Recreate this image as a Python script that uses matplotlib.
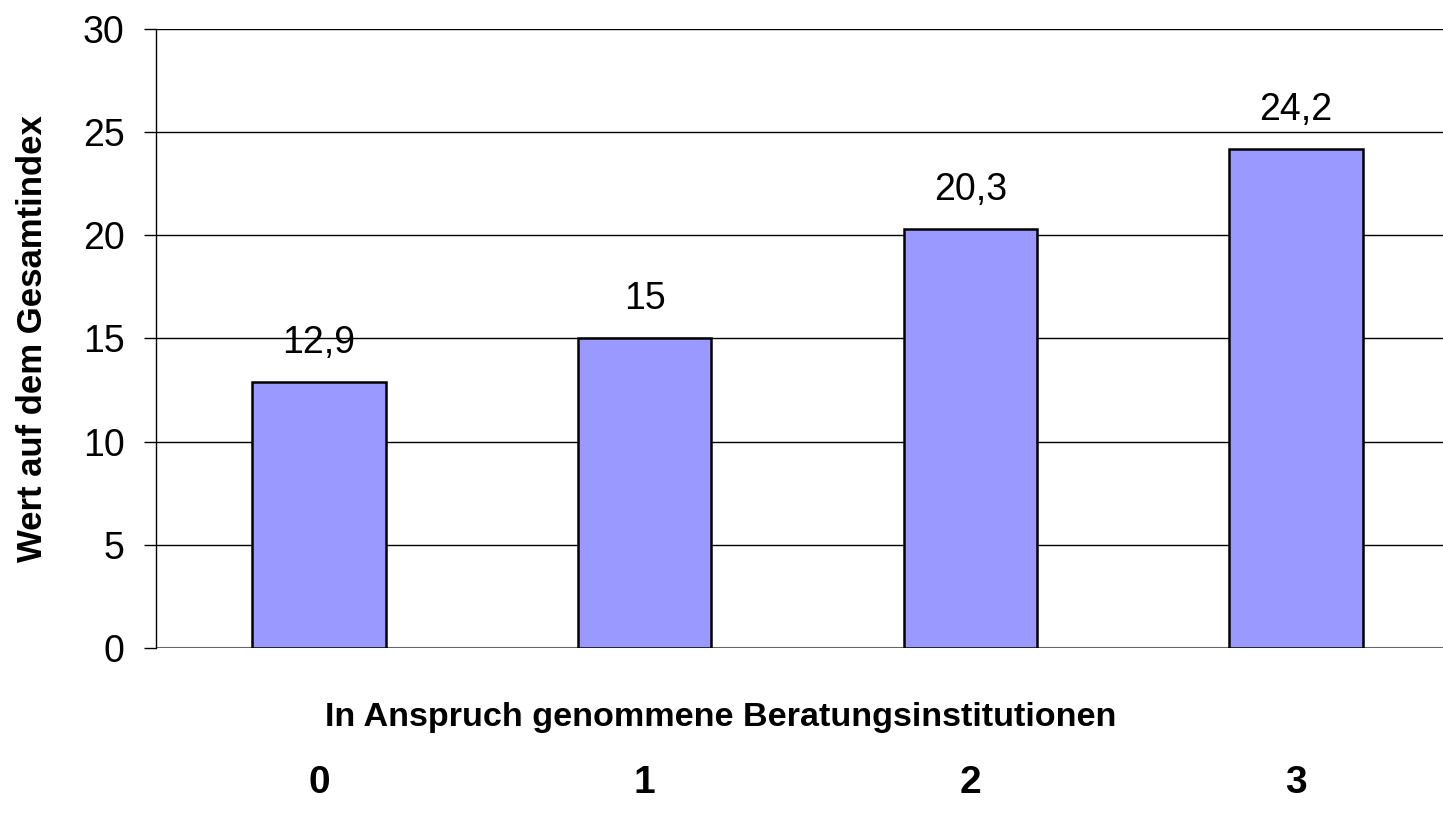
import matplotlib.pyplot as plt

plt.rcParams['font.family'] = ['Liberation Sans', 'DejaVu Sans']

categories = ["0", "1", "2", "3"]
values = [12.9, 15, 20.3, 24.2]
value_labels = ["12,9", "15", "20,3", "24,2"]
yticks = [0, 5, 10, 15, 20, 25, 30]

fig = plt.figure(figsize=(14.43, 8.22), dpi=100)
ax = fig.add_axes([0.1081, 0.2117, 0.8919, 0.753])

x = list(range(len(categories)))
ax.bar(x, values, width=0.41, color="#9999FF", edgecolor="black", linewidth=1.8, zorder=3)

for xi, v, lab in zip(x, values, value_labels):
    ax.annotate(lab, (xi, v), xytext=(0, 21), textcoords="offset points",
                ha="center", va="baseline", fontsize=27, zorder=1)

ax.set_xlim(-0.5, 3.451)
ax.set_ylim(0, 30)
ax.set_yticks(yticks)
ax.set_yticklabels([str(t) for t in yticks], fontsize=27)
ax.tick_params(axis="y", length=8.6, width=1, pad=14)
ax.set_xticks([])
ax.grid(axis="y", color="black", linewidth=1, zorder=2)
ax.set_axisbelow(False)
for s in ["top", "right", "bottom"]:
    ax.spines[s].set_visible(False)
ax.spines["left"].set_linewidth(1)
ax.axhline(0, color="#808080", linewidth=1.5, zorder=2)

ax.set_ylabel("Wert auf dem Gesamtindex", fontsize=25, fontweight="bold", labelpad=0)
ax.yaxis.set_label_coords(-0.0835, 0.5)

# x title sits above the category labels
fig.text(721 / 1443, 1 - 717 / 822, "In Anspruch genommene Beratungsinstitutionen",
         ha="center", va="center", fontsize=24.6, fontweight="bold")
for xi, c in zip(x, categories):
    ax.annotate(c, (xi, 0), xytext=(0, -(783 - 648) / 1.3889), textcoords="offset points",
                ha="center", va="center", fontsize=28, fontweight="bold",
                annotation_clip=False)

fig.savefig("out.png", dpi=100)
